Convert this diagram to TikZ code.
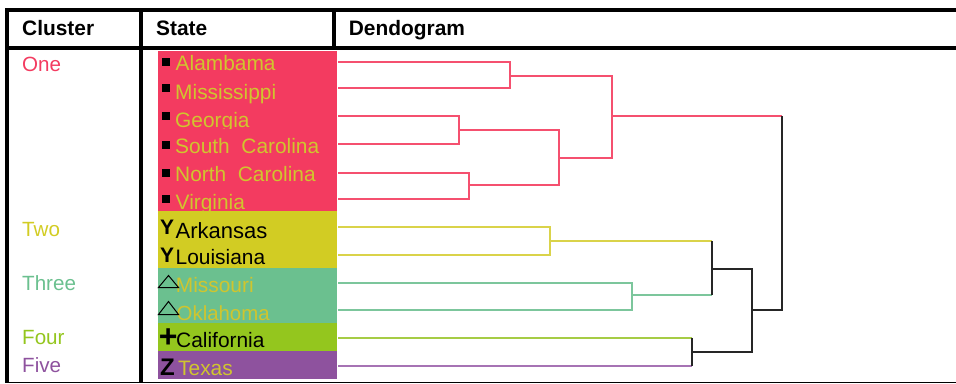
\documentclass[tikz,border=0pt]{standalone}
\usepackage{fontspec}
\setmainfont{Liberation Sans}
\definecolor{cred}{HTML}{F33B60}
\definecolor{cyel}{HTML}{D2CC23}
\definecolor{cgrn}{HTML}{6BC08F}
\definecolor{clim}{HTML}{94C61E}
\definecolor{cpur}{HTML}{8E529E}
\definecolor{ctxt}{HTML}{D0C52E}
\definecolor{lred}{HTML}{F5506F}
\definecolor{lyel}{HTML}{DAD34A}
\definecolor{lgrn}{HTML}{7CC69C}
\definecolor{llim}{HTML}{A6CC45}
\definecolor{lpur}{HTML}{A673B4}
\definecolor{lblk}{HTML}{262626}
\tikzset{
  x=1pt,y=-1pt,
  rule/.style={line width=4pt,black},
  thinrule/.style={line width=1.1pt,black},
  head/.style={anchor=base west,inner sep=0pt,font=\fontsize{20.9}{24}\selectfont\bfseries,black},
  clab/.style={anchor=base west,inner sep=0pt,font=\fontsize{20.6}{24}\selectfont},
  sname/.style={anchor=base west,inner sep=0pt,font=\fontsize{20.9}{24}\selectfont},
  mark glyph/.style={anchor=base west,inner sep=0pt,black},
  dend/.style={line width=2pt,line cap=butt,line join=miter},
  tri/.style={black,line width=1pt},
  sq/.style={fill=black,draw=none}
}
\begin{document}
\begin{tikzpicture}
\useasboundingbox (0,0) rectangle (956,383);
% table rules
\draw[rule] (5,10) coordinate (tl) -- (956,10) coordinate (tr);
\draw[rule] (5,48) coordinate (ml) -- (956,48) coordinate (mr);
\draw[rule] (7,8) coordinate (v1a) -- (7,382) coordinate (v1b);
\draw[rule] (141,12) coordinate (v2a) -- (141,382) coordinate (v2b);
\draw[rule] (334,12) coordinate (v3a) -- (334,46) coordinate (v3b);
\draw[thinrule] (5,382.3) coordinate (bl) -- (956,382.3) coordinate (br);
% headers
\node[head] (hc) at (22,35.7) {Cluster};
\node[head] (hs) at (156,35.7) {State};
\node[head] (hd) at (348.7,35.7) {Dendogram};
% cluster labels
\node[clab,text=cred] (c1) at (22,71) {One};
\node[clab,text=cyel] (c2) at (22,236.3) {Two};
\node[clab,text=cgrn] (c3) at (22,290.8) {Three};
\node[clab,text=clim] (c4) at (22,344.5) {Four};
\node[clab,text=cpur] (c5) at (22,372.7) {Five};
% colour bands
\fill[cred] (158,51) rectangle (336.5,211);
\fill[cyel] (158,211) rectangle (336.5,268);
\fill[cgrn] (158,268) rectangle (336.5,322.5);
\fill[clim] (158,322.5) rectangle (336.5,351);
\fill[cpur] (158,351) rectangle (336.5,379);
% state names: cluster one
\foreach \yy in {57.5,83.5,112,140.5,168.5,194.5}{\fill[sq] (162,\yy) rectangle ++(8,8);}
\node[sname,text=ctxt] (s1) at (175.5,70.7) {Alambama};
\node[sname,text=ctxt] (s2) at (175,99) {Mississippi};
\begin{scope}
\clip (158,105) rectangle (336.5,128.3);
\node[sname,text=ctxt] (s3) at (175,127) {Georgia};
\end{scope}
\node[sname,text=ctxt] (s4) at (175,153) {South\ \ Carolina};
\node[sname,text=ctxt] (s5) at (175,181) {North\ \ Carolina};
\begin{scope}
\clip (158,187) rectangle (336.5,211);
\node[sname,text=ctxt] (s6) at (175.5,209) {Virginia};
\end{scope}
% other clusters
\node[mark glyph,font=\fontsize{21}{24}\selectfont\bfseries] (m7) at (160,234) {Y};
\node[sname,font=\fontsize{22}{24}\selectfont] (s7) at (175.5,238) {Arkansas};
\node[mark glyph,font=\fontsize{21}{24}\selectfont\bfseries] (m8) at (160,262) {Y};
\node[sname] (s8) at (175.5,264) {Louisiana};
\node[sname,text=ctxt] (s9) at (175.7,292) {Missouri};
\draw[tri] (158.5,287.5) -- (178.5,287.5) -- (168.5,275.5) -- cycle;
\node[sname,font=\fontsize{20.4}{24}\selectfont,text=ctxt] (s10) at (176.5,320) {Oklahoma};
\draw[tri] (158.5,314.5) -- (178.5,314.5) -- (168.5,301.5) -- cycle;
\node[mark glyph,font=\fontsize{32}{34}\selectfont\bfseries] (m11) at (158.7,347.7) {+};
\node[sname] (s11) at (176,347) {California};
\node[mark glyph,font=\fontsize{24}{26}\selectfont\bfseries] (m12) at (160,375) {Z};
\node[sname,text=ctxt] (s12) at (178,375) {Texas};
% dendrogram joints
\coordinate (a1) at (338,61.7); \coordinate (a2) at (338,88);
\coordinate (a3) at (338,116.3); \coordinate (a4) at (338,144.3);
\coordinate (a5) at (338,172.5); \coordinate (a6) at (338,198.7);
\coordinate (a7) at (338,227); \coordinate (a8) at (338,255);
\coordinate (a9) at (338,283); \coordinate (a10) at (338,309.5);
\coordinate (a11) at (338,337.5); \coordinate (a12) at (338,365.7);
\coordinate (j1a) at (509.7,61.7); \coordinate (j1b) at (509.7,88); \coordinate (j1) at (509.7,76);
\coordinate (j2a) at (459.3,116.3); \coordinate (j2b) at (459.3,144.3); \coordinate (j2) at (459.3,130.3);
\coordinate (j3a) at (469.3,172.5); \coordinate (j3b) at (469.3,198.7); \coordinate (j3) at (469.3,184.5);
\coordinate (j4a) at (559.3,130.3); \coordinate (j4b) at (559.3,184.5); \coordinate (j4) at (559.3,158);
\coordinate (j5a) at (611.7,76); \coordinate (j5b) at (611.7,158); \coordinate (j5) at (611.7,116.3);
\coordinate (j6a) at (549.7,227); \coordinate (j6b) at (549.7,255); \coordinate (j6) at (549.7,241);
\coordinate (j7a) at (631.7,283); \coordinate (j7b) at (631.7,309.5); \coordinate (j7) at (631.7,295.3);
\coordinate (j8a) at (711.7,241); \coordinate (j8b) at (711.7,295.3); \coordinate (j8) at (711.7,269);
\coordinate (j9a) at (691.7,337.5); \coordinate (j9b) at (691.7,365.7); \coordinate (j9) at (691.7,351.5);
\coordinate (j10a) at (752,269); \coordinate (j10b) at (752,351.5); \coordinate (j10) at (752,309.5);
\coordinate (j11a) at (782,116.3); \coordinate (j11b) at (782,309.5);
% red branches
\draw[dend,lred] (a1) -- (j1a) -- (j1b) -- (a2);
\draw[dend,lred] (a3) -- (j2a) -- (j2b) -- (a4);
\draw[dend,lred] (a5) -- (j3a) -- (j3b) -- (a6);
\draw[dend,lred] (j2) -- (j4a) -- (j4b) -- (j3);
\draw[dend,lred] (j1) -- (j5a) -- (j5b) -- (j4);
\draw[dend,lred] (j5) -- (j11a);
% yellow and green
\draw[dend,lyel] (a7) -- (j6a) -- (j6b) -- (a8);
\draw[dend,lyel] (j6) -- (j8a);
\draw[dend,lgrn] (a9) -- (j7a) -- (j7b) -- (a10);
\draw[dend,lgrn] (j7) -- (j8b);
% lime and purple
\draw[dend,llim] (a11) -- (j9a);
\draw[dend,lpur] (a12) -- (j9b);
% black joins
\draw[dend,lblk] (j8a) -- (j8b);
\draw[dend,lblk] (j9a) -- (j9b);
\draw[dend,lblk] (j8) -- (j10a) -- (j10b) -- (j9);
\draw[dend,lblk] (j10) -- (j11b) -- (j11a);
\end{tikzpicture}
\end{document}
